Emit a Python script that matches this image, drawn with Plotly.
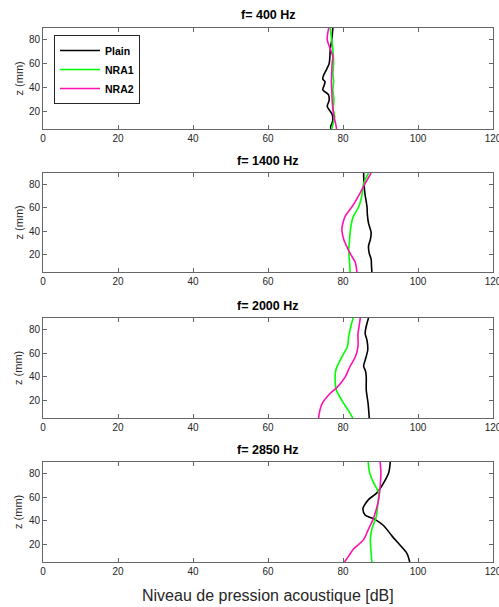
import plotly.graph_objects as go

# ---------------- data ----------------
titles = ["f= 400 Hz", "f= 1400 Hz", "f= 2000 Hz", "f= 2850 Hz"]
series_names = ["Plain", "NRA1", "NRA2"]

# 400 Hz
z_plain_400 = [90, 80, 72, 66, 60, 55, 50, 47, 45, 42, 38, 34, 29, 24, 18, 14, 10, 7, 5]
v_plain_400 = [77.3, 77.0, 76.6, 76.5, 76.3, 75.6, 74.8, 74.6, 75.2, 75.0, 74.6, 76.1, 76.3, 75.8, 77.0, 77.3, 77.1, 76.7, 76.8]
z_nra1_400 = [90, 82, 75, 68, 60, 52, 45, 38, 30, 22, 15, 9, 5]
v_nra1_400 = [76.6, 76.9, 77.2, 77.4, 77.5, 77.3, 77.5, 77.3, 77.6, 77.4, 77.8, 77.3, 77.0]
z_nra2_400 = [90, 85, 80, 75, 70, 66, 60, 52, 45, 38, 30, 22, 15, 10, 5]
v_nra2_400 = [76.2, 75.9, 75.8, 76.3, 76.9, 77.3, 77.1, 77.0, 76.9, 77.0, 77.1, 77.3, 77.6, 78.0, 78.3]

# 1400 Hz
z_plain_1400 = [90, 80, 71, 61, 54, 47, 39, 33, 27, 21, 16, 10, 5]
v_plain_1400 = [85.5, 85.6, 85.9, 86.4, 86.5, 86.8, 87.5, 87.3, 86.8, 87.0, 87.5, 87.6, 87.7]
z_nra1_1400 = [90, 81, 70, 61, 53, 49, 39, 30, 24, 16, 5]
v_nra1_1400 = [86.8, 85.5, 85.0, 84.2, 82.8, 82.4, 81.9, 81.7, 81.5, 81.7, 81.9]
z_nra2_1400 = [90, 81, 73, 61, 53, 46, 41, 33, 27, 21, 13, 5]
v_nra2_1400 = [87.5, 85.9, 84.6, 82.4, 80.6, 79.9, 79.7, 80.2, 81.0, 81.9, 83.3, 83.7]

# 2000 Hz
z_plain_2000 = [90, 83, 77, 71, 63, 54, 49, 45, 40, 29, 17, 5]
v_plain_2000 = [86.8, 86.2, 85.9, 86.4, 86.6, 85.9, 85.5, 86.0, 86.2, 86.2, 86.7, 87.0]
z_nra1_2000 = [90, 83, 74, 66, 57, 50, 46, 40, 29, 20, 11, 5]
v_nra1_2000 = [82.7, 82.1, 81.5, 81.2, 79.7, 78.6, 78.1, 77.9, 78.2, 79.7, 81.5, 82.6]
z_nra2_2000 = [90, 83, 77, 66, 57, 49, 40, 31, 26, 17, 11, 5]
v_nra2_2000 = [84.6, 84.3, 84.0, 84.0, 83.3, 81.9, 80.6, 78.4, 76.6, 74.4, 73.8, 73.5]

# 2850 Hz
z_plain_2850 = [90, 81, 72, 64, 58, 52, 50, 45, 41, 36, 27, 19, 12, 5]
v_plain_2850 = [92.6, 92.2, 90.8, 89.1, 86.8, 85.5, 85.3, 85.9, 88.6, 90.8, 93.1, 95.3, 97.1, 97.8]
z_nra1_2850 = [90, 81, 72, 64, 55, 44, 33, 24, 13, 5]
v_nra1_2850 = [86.7, 87.1, 88.2, 89.5, 89.3, 88.9, 87.7, 87.3, 87.5, 87.7]
z_nra2_2850 = [90, 81, 69, 58, 50, 41, 33, 24, 16, 10, 5]
v_nra2_2850 = [89.9, 90.1, 89.9, 89.5, 88.9, 88.0, 86.8, 85.5, 82.8, 81.5, 80.4]

x_ticks = [0, 20, 40, 60, 80, 100, 120]
y_ticks = [20, 40, 60, 80]

panels = [
    [(z_plain_400, v_plain_400), (z_nra1_400, v_nra1_400), (z_nra2_400, v_nra2_400)],
    [(z_plain_1400, v_plain_1400), (z_nra1_1400, v_nra1_1400), (z_nra2_1400, v_nra2_1400)],
    [(z_plain_2000, v_plain_2000), (z_nra1_2000, v_nra1_2000), (z_nra2_2000, v_nra2_2000)],
    [(z_plain_2850, v_plain_2850), (z_nra1_2850, v_nra1_2850), (z_nra2_2850, v_nra2_2850)],
]

# ---------------- styling ----------------
FONT = "Liberation Sans, Arial, sans-serif"
colors = ["#000000", "#00ff00", "#ff10b0"]
H = 607
W_PLOT = 450
L = 43
pix_domains = [(28, 129), (173, 272), (318, 418), (462, 562)]
title_pix = [15, 161, 306, 450]
axis_col = "#666666"
tick_font = dict(family=FONT, size=10, color="#262626")

fig = go.Figure()
layout = dict(
    width=499, height=607,
    margin=dict(l=L, r=6, t=0, b=0, autoexpand=False),
    paper_bgcolor="white", plot_bgcolor="white",
    showlegend=True,
    font=dict(family=FONT, color="#262626"),
)
annotations = []
for i, panel in enumerate(panels):
    xa = "x" if i == 0 else f"x{i+1}"
    ya = "y" if i == 0 else f"y{i+1}"
    for j, (zs, vs) in enumerate(panel):
        fig.add_trace(go.Scatter(
            x=vs, y=zs, mode="lines", name=f"<b>{series_names[j]}</b>",
            line=dict(color=colors[j], width=1.6, shape="spline", smoothing=0.8),
            xaxis=xa, yaxis=ya, showlegend=(i == 0),
        ))
    top, bot = pix_domains[i]
    xkey = "xaxis" if i == 0 else f"xaxis{i+1}"
    ykey = "yaxis" if i == 0 else f"yaxis{i+1}"
    layout[xkey] = dict(
        domain=[0, 1], anchor=ya, range=[0, 120], tickvals=x_ticks,
        showline=True, mirror="ticks", linecolor=axis_col, linewidth=1,
        ticks="inside", ticklen=4, tickcolor=axis_col, showgrid=False, zeroline=False,
        tickfont=tick_font, automargin=False, ticklabeloverflow="allow",
    )
    layout[ykey] = dict(
        domain=[1 - bot / H, 1 - top / H], anchor=xa, range=[5, 90], tickvals=y_ticks,
        showline=True, mirror="ticks", linecolor=axis_col, linewidth=1,
        ticks="inside", ticklen=4, tickcolor=axis_col, showgrid=False, zeroline=False,
        tickfont=tick_font, automargin=False,
    )
    annotations.append(dict(
        text=f"<b>{titles[i]}</b>", x=0.5, xref="paper", y=1 - title_pix[i] / H, yref="paper",
        showarrow=False, xanchor="center", yanchor="middle",
        font=dict(size=12.5, color="#000000"),
    ))
    annotations.append(dict(
        text="z (mm)", textangle=-90, x=(18 - L) / W_PLOT, xref="paper",
        y=1 - (top + bot) / 2 / H, yref="paper",
        showarrow=False, xanchor="center", yanchor="middle",
        font=dict(size=11, color="#262626"),
    ))

annotations.append(dict(
    text="Niveau de pression acoustique [dB]", x=0.5, xref="paper", y=1 - 595 / H, yref="paper",
    showarrow=False, xanchor="center", yanchor="middle",
    font=dict(size=16, color="#262626"),
))
layout["annotations"] = annotations
layout["legend"] = dict(
    x=(54 - L) / W_PLOT, y=1 - 35 / H, xanchor="left", yanchor="top",
    bgcolor="white", bordercolor="#262626", borderwidth=1,
    font=dict(family=FONT, size=10.5, color="#000000"), tracegroupgap=0,
    itemwidth=40, entrywidthmode="pixels",
)
fig.update_layout(**layout)

fig.write_html(
    "out.html",
    config={"displayModeBar": False},
    post_script="document.body.style.margin='0';document.body.style.overflow='hidden';",
)
